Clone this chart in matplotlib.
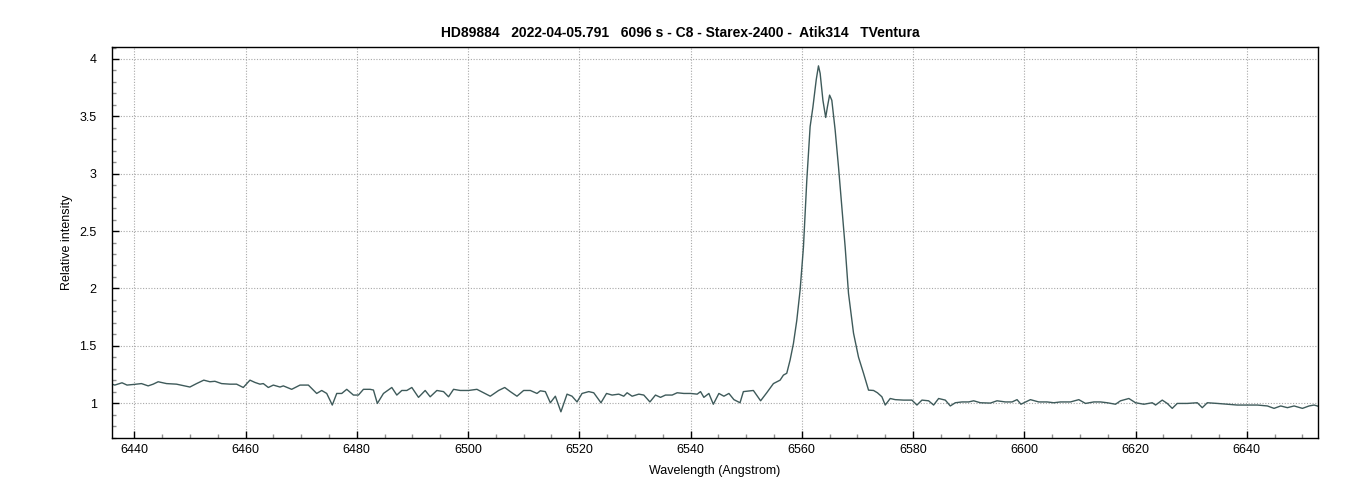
import matplotlib
matplotlib.use("Agg")
import matplotlib.pyplot as plt
from matplotlib.ticker import MultipleLocator, FuncFormatter

title = "HD89884   2022-04-05.791   6096 s - C8 - Starex-2400 -  Atik314   TVentura"
xlabel = "Wavelength (Angstrom)"
ylabel = "Relative intensity"

wavelength = [
    6436.0, 6436.5, 6437.8, 6438.7, 6440.0, 6441.3, 6442.5, 6443.4, 6444.3, 6445.8,
    6447.6, 6450.0, 6451.2, 6452.5, 6453.6, 6454.5, 6455.7, 6457.2, 6458.4, 6459.6,
    6460.8, 6461.7, 6462.6, 6463.2, 6464.1, 6465.0, 6466.2, 6466.8, 6468.3, 6469.8,
    6471.3, 6472.8, 6473.7, 6474.6, 6475.6, 6476.4, 6477.3, 6478.2, 6479.4, 6480.3,
    6481.2, 6482.4, 6483.0, 6483.7, 6484.8, 6486.3, 6487.2, 6488.1, 6489.0, 6489.9,
    6491.1, 6492.3, 6493.2, 6494.4, 6495.6, 6496.5, 6497.4, 6498.6, 6500.1, 6501.6,
    6502.8, 6504.0, 6505.5, 6506.6, 6507.6, 6508.8, 6510.0, 6511.2, 6512.4, 6513.0,
    6513.9, 6514.8, 6515.7, 6516.7, 6517.8, 6518.7, 6519.6, 6520.5, 6521.7, 6522.6,
    6523.9, 6524.9, 6525.9, 6527.1, 6528.0, 6528.6, 6529.5, 6530.7, 6531.6, 6532.7,
    6533.7, 6534.6, 6535.5, 6536.7, 6537.6, 6538.8, 6540.0, 6541.2, 6541.8, 6542.4,
    6543.3, 6544.1, 6545.1, 6546.0, 6546.9, 6547.8, 6548.9, 6549.5, 6551.3, 6552.6,
    6553.7, 6554.9, 6556.1, 6556.7, 6557.3, 6557.9, 6558.5, 6559.1, 6559.7, 6560.3,
    6560.9, 6561.5, 6562.0, 6562.6, 6563.0, 6563.3, 6563.8, 6564.3, 6564.6, 6565.0,
    6565.4, 6566.0, 6566.6, 6567.2, 6567.8, 6568.4, 6569.3, 6570.2, 6571.1, 6572.0,
    6572.9, 6573.6, 6574.4, 6575.0, 6575.9, 6576.8, 6578.3, 6579.8, 6580.7, 6581.6,
    6582.8, 6583.7, 6584.6, 6585.8, 6586.7, 6587.6, 6588.8, 6590.0, 6590.9, 6592.1,
    6593.9, 6595.1, 6596.6, 6597.8, 6598.7, 6599.4, 6601.1, 6602.6, 6604.1, 6605.3,
    6606.5, 6608.3, 6609.8, 6611.0, 6612.5, 6613.7, 6614.9, 6616.4, 6617.3, 6618.8,
    6620.0, 6621.5, 6623.0, 6623.6, 6624.8, 6625.7, 6626.6, 6627.5, 6629.3, 6631.1,
    6632.0, 6632.9, 6634.7, 6636.5, 6638.3, 6640.1, 6641.9, 6643.7, 6644.9, 6646.1,
    6647.3, 6648.5, 6650.0, 6651.2, 6652.1, 6653.0,
]

intensity = [
    1.165, 1.157, 1.177, 1.157, 1.163, 1.170, 1.150, 1.165, 1.186, 1.170,
    1.165, 1.140, 1.170, 1.200, 1.186, 1.190, 1.170, 1.165, 1.165, 1.136,
    1.200, 1.180, 1.165, 1.170, 1.136, 1.157, 1.140, 1.150, 1.120, 1.157,
    1.157, 1.084, 1.110, 1.084, 0.983, 1.084, 1.084, 1.120, 1.070, 1.070,
    1.120, 1.120, 1.114, 0.997, 1.084, 1.136, 1.070, 1.110, 1.110, 1.136,
    1.050, 1.110, 1.055, 1.110, 1.100, 1.055, 1.120, 1.110, 1.110, 1.120,
    1.090, 1.060, 1.110, 1.136, 1.100, 1.060, 1.110, 1.110, 1.084, 1.107,
    1.100, 1.003, 1.060, 0.924, 1.078, 1.060, 1.010, 1.084, 1.100, 1.090,
    1.003, 1.084, 1.070, 1.078, 1.060, 1.090, 1.060, 1.078, 1.070, 1.010,
    1.070, 1.050, 1.070, 1.070, 1.090, 1.084, 1.084, 1.078, 1.100, 1.050,
    1.084, 0.990, 1.084, 1.060, 1.084, 1.030, 1.003, 1.100, 1.110, 1.020,
    1.090, 1.170, 1.200, 1.244, 1.260, 1.375, 1.520, 1.720, 1.985, 2.360,
    2.940, 3.410, 3.580, 3.820, 3.940, 3.875, 3.640, 3.490, 3.580, 3.685,
    3.640, 3.380, 3.060, 2.710, 2.360, 1.956, 1.610, 1.400, 1.260, 1.113,
    1.110, 1.090, 1.055, 0.983, 1.040, 1.030, 1.026, 1.026, 0.983, 1.026,
    1.020, 0.983, 1.040, 1.026, 0.975, 1.003, 1.010, 1.010, 1.020, 1.003,
    1.000, 1.020, 1.010, 1.010, 1.030, 0.990, 1.030, 1.010, 1.010, 1.003,
    1.010, 1.010, 1.030, 0.997, 1.010, 1.010, 1.003, 0.990, 1.020, 1.040,
    1.003, 0.990, 1.003, 0.983, 1.026, 0.997, 0.954, 0.997, 0.997, 1.003,
    0.960, 1.003, 0.997, 0.990, 0.983, 0.983, 0.983, 0.975, 0.954, 0.975,
    0.960, 0.975, 0.954, 0.975, 0.983, 0.970,
]

plt.rcParams['font.family'] = ['Liberation Sans', 'DejaVu Sans']

fig = plt.figure(figsize=(13.6, 5.0), dpi=100)
ax = fig.add_axes([112/1360, 1-437.5/500, (1318-112)/1360, (437.5-46.7)/500])

ax.plot(wavelength, intensity, color='#3e5a5a', lw=1.0)

ax.set_xlim(6436.0, 6652.8)
ax.set_ylim(0.70, 4.107)

ax.xaxis.set_major_locator(MultipleLocator(20))
ax.xaxis.set_minor_locator(MultipleLocator(5))
ax.yaxis.set_major_locator(MultipleLocator(0.5))
ax.yaxis.set_minor_locator(MultipleLocator(0.1))
ax.yaxis.set_major_formatter(FuncFormatter(lambda v, p: '%g' % v))

ax.tick_params(which='major', direction='in', length=5, width=1, color='black',
               labelsize=9)
ax.tick_params(axis='x', which='major', pad=5)
ax.tick_params(axis='y', which='major', pad=11)
ax.tick_params(which='minor', direction='in', length=3, width=1, color='#909090')
ax.grid(True, which='major', color='#a8a8a8', linestyle=(0, (1, 1.5)), lw=0.8)

for s in ax.spines.values():
    s.set_linewidth(1.0)
    s.set_color('black')

ax.set_xlabel(xlabel, fontsize=9, labelpad=6)
ax.set_ylabel(ylabel, fontsize=9, labelpad=5)
fig.text(0.5, 1-33/500, title, ha='center', va='center', fontsize=10, fontweight='bold')

fig.savefig('out.png', dpi=100, facecolor='white')
